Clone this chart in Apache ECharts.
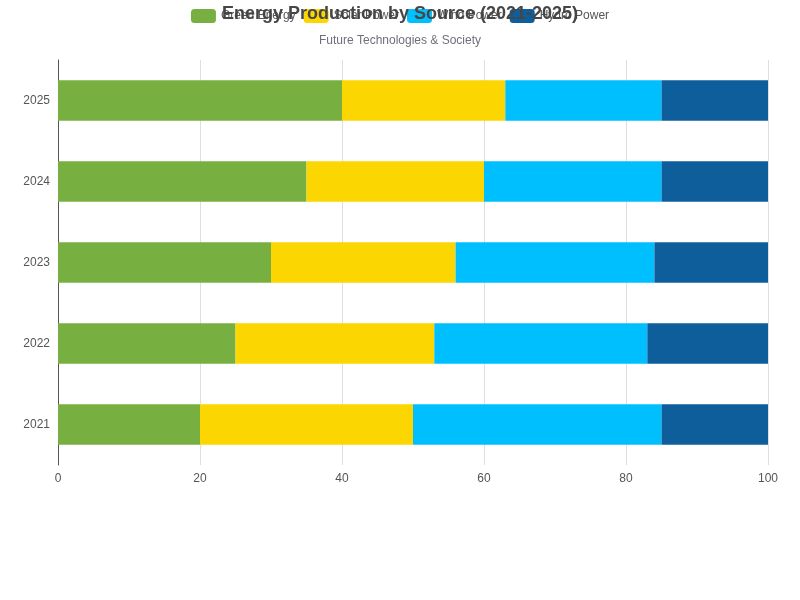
<!DOCTYPE html><html><head><meta charset="utf-8"><script src="https://cdn.jsdelivr.net/npm/echarts@6/dist/echarts.min.js"></script></head><body style="margin:0"><div id="c" style="width:800px;height:600px"></div><script>
const years=['2021','2022','2023','2024','2025'];
const green=[20,25,30,35,40];
const solar=[30,28,26,25,23];
const wind=[35,30,28,25,22];
const hydro=[15,17,16,15,15];
const names=['Green Energy','Solar Power','Wind Power','Hydro Power'];
const colors=['#77b041','#fcd600','#00bfff','#0f5e9c'];
const vals=[green,solar,wind,hydro];
const ch=echarts.init(document.getElementById('c'));
ch.setOption({
title:{text:'Energy Production by Source (2021-2025)',subtext:'Future Technologies & Society',left:'center',top:0,textStyle:{fontSize:18,fontWeight:'bold',color:'#464646'},subtextStyle:{fontSize:12,color:'#6e7079'},itemGap:12},
legend:{top:4,left:'center',data:names},
grid:{left:58,right:32,top:60,bottom:135},
xAxis:{type:'value',min:0,max:100,interval:20},
yAxis:{type:'category',data:years,axisLine:{show:true}},
series:names.map((n,i)=>({name:n,type:'bar',stack:'t',barWidth:'50%',itemStyle:{color:colors[i]},data:vals[i]}))
});
</script></body></html>
